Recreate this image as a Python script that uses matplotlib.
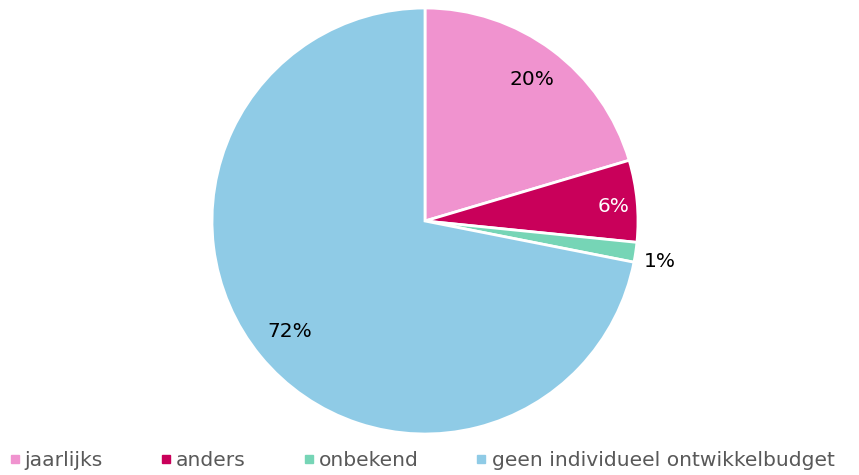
import numpy as np
import matplotlib
matplotlib.use("Agg")
import matplotlib.pyplot as plt
from matplotlib.lines import Line2D

categories = ["jaarlijks", "anders", "onbekend", "geen individueel ontwikkelbudget"]
values = [20.4, 6.2, 1.5, 71.9]
value_labels = ["20%", "6%", "1%", "72%"]
colors = ["#F093CF", "#C9005A", "#76D5B6", "#8FCBE6"]
label_colors = ["#000000", "#FFFFFF", "#000000", "#000000"]
label_dist = [0.84, 0.89, 1.06, 0.82]
label_dy = [-0.01, -0.018, -0.035, 0.0]

W, H = 859, 475
fig = plt.figure(figsize=(W / 100, H / 100), dpi=100)
cx, cy, r = 425, 221, 213
ax = fig.add_axes([(cx - r) / W, (H - cy - r) / H, 2 * r / W, 2 * r / H])
wedges, _ = ax.pie(values, colors=colors, startangle=90, counterclock=False,
                   radius=1, wedgeprops=dict(edgecolor="white", linewidth=2))
ax.set_xlim(-1, 1)
ax.set_ylim(-1, 1)
ax.set_aspect("auto")
ax.axis("off")

for w, lab, lc, d, dy in zip(wedges, value_labels, label_colors, label_dist, label_dy):
    th = np.deg2rad((w.theta1 + w.theta2) / 2)
    ha = "center"
    x, y = d * np.cos(th), d * np.sin(th) + dy
    if d > 1:
        ha = "left"
        x -= 0.02
    ax.text(x, y, lab, ha=ha, va="center", fontsize=14.5, color=lc)

handles = [Line2D([0], [0], marker="s", linestyle="", markersize=6,
                  markerfacecolor=c, markeredgecolor=c) for c in colors]
leg = fig.legend(handles, categories, loc="center", bbox_to_anchor=(0.49, (H - 461) / H),
                 ncol=4, frameon=False, fontsize=14.6, handletextpad=0.15,
                 columnspacing=2.75, handlelength=0.7, labelcolor="#595959")

fig.savefig("out.png", dpi=100)
